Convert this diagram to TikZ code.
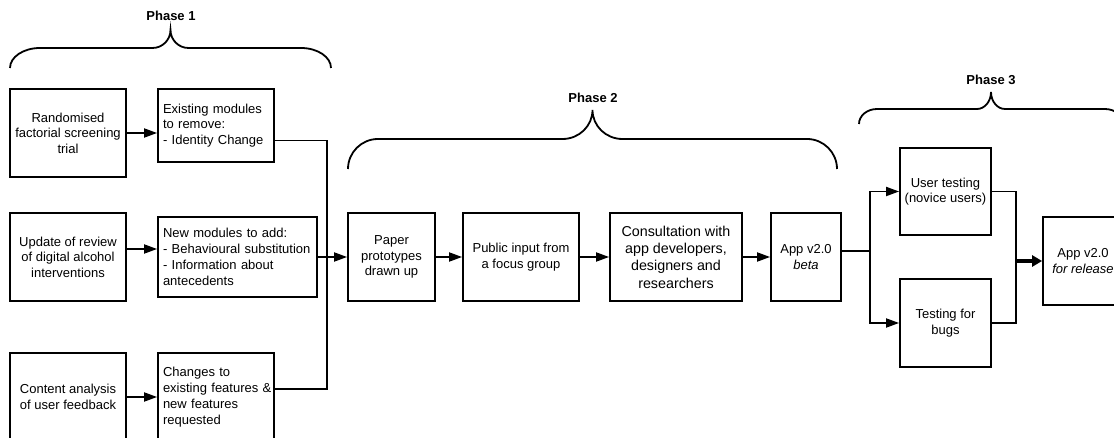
\documentclass[tikz,border=0pt]{standalone}
\usepackage{fontspec}
\setmainfont{Liberation Sans}
\usetikzlibrary{arrows.meta}
\begin{document}
\begin{tikzpicture}[x=1pt,y=-1pt,
  box/.style={draw=black,line width=1.8pt,minimum height=88pt,inner sep=2pt,align=center,
    font=\fontsize{13}{15.5}\selectfont},
  lbox/.style={draw=black,line width=1.8pt,inner xsep=5pt,inner ysep=2pt,align=left,
    font=\fontsize{13}{15.8}\selectfont},
  conn/.style={line width=1.8pt},
  arr/.style={line width=1.8pt,-{Triangle[length=13pt,width=9pt]}},
  thickarr/.style={line width=3.2pt,-{Triangle[length=10pt,width=11pt]}},
  brace/.style={line width=1.8pt},
  phase/.style={font=\fontsize{13}{15}\selectfont\bfseries}]
\useasboundingbox (0,0) rectangle (1114,438);
\clip (0,0) rectangle (1114,438);

% Phase 1 column A
\node[box,minimum width=116pt] (A1) at (68,133) {Randomised\\factorial screening\\trial};
\node[box,minimum width=116pt] (A2) at (68,257) {Update of review\\of digital alcohol\\interventions};
\node[box,minimum width=116pt] (A3) at (68,397) {Content analysis\\of user feedback};
% Phase 1 column B
\node[lbox,minimum width=116pt,minimum height=73pt,text width=106pt] (B1) at (216,125.5)
  {\mbox{Existing modules}\\\mbox{to remove:}\\\mbox{- Identity Change}};
\node[lbox,minimum width=159pt,minimum height=80pt,text width=149pt] (B2) at (237.5,257)
  {\mbox{New modules to add:}\\\mbox{- Behavioural substitution}\\\mbox{- Information about}\\\mbox{antecedents}};
\node[lbox,minimum width=116pt,minimum height=88pt,text width=106pt] (B3) at (216,397)
  {\mbox{Changes to}\\\mbox{existing features \&}\\\mbox{new features}\\\mbox{requested}};

% Phase 2
\node[box,minimum width=87pt] (C1) at (391.5,257) {Paper\\prototypes\\drawn up};
\node[box,minimum width=116pt] (C2) at (521,257) {Public input from\\a focus group};
\node[box,minimum width=132pt,font=\fontsize{14.3}{17.3}\selectfont] (C3) at (676,257)
  {Consultation with\\app developers,\\designers and\\researchers};
\node[box,minimum width=70pt] (C4) at (806,257) {App v2.0\\\textit{beta}};

% Phase 3
\node[box,minimum width=91pt,minimum height=87pt] (D1) at (945.5,191.5) {User testing\\(novice users)};
\node[box,minimum width=91pt] (D2) at (945.5,323) {Testing for\\bugs};
\node[box,minimum width=80pt] (E) at (1083,261) {App v2.0\\\textit{for release}};

% junctions
\coordinate (J) at (327,257);
\coordinate (S) at (870,251);
\coordinate (M) at (1016,261);

% connectors
\draw[arr] (A1) -- (A1 -| B1.west);
\draw[arr] ([yshift=8pt]A2.east) -- ([yshift=8pt]A2.east -| B2.west);
\draw[arr] (A3) -- (A3 -| B3.west);
\draw[conn] ([yshift=-15pt]B1.east) -| (J);
\draw[conn] ([yshift=8pt]B3.east) -| (J);
\draw[arr] (B2.east) -- (C1.west);
\draw[arr] (C1) -- (C2);
\draw[arr] (C2) -- (C3);
\draw[arr] (C3) -- (C4);
\draw[conn] ([yshift=6pt]C4.east) -- (S);
\draw[arr] (S) |- (D1.west);
\draw[arr] (S) |- (D2.west);
\draw[conn] (D1.east) -| (M);
\draw[conn] (D2.east) -| (M);
\draw[thickarr] (M) -- (E.west);

% braces
\draw[brace] (10,68) .. controls (10,56.96) and (23.44,48) .. (40,48) -- (152.5,48)
  .. controls (162.4,48) and (170.5,39.9) .. (170.5,30)
  .. controls (170.5,39.9) and (178.6,48) .. (188.5,48) -- (301,48)
  .. controls (317.56,48) and (331,56.96) .. (331,68);
\draw[brace] (348,169) .. controls (348,152.44) and (361.44,139) .. (378,139) -- (562.5,139)
  .. controls (579.06,139) and (592.5,126) .. (592.5,110)
  .. controls (592.5,126) and (605.94,139) .. (622.5,139) -- (807,139)
  .. controls (823.56,139) and (837,152.44) .. (837,169);
\draw[brace] (859,124) .. controls (859,115.72) and (867.06,109) .. (877,109) -- (977,109)
  .. controls (984.73,109) and (991,101.38) .. (991,92)
  .. controls (991,101.38) and (997.27,109) .. (1005,109) -- (1105,109)
  .. controls (1114.94,109) and (1123,115.72) .. (1123,124);

\node[phase] (P1) at (171,16) {Phase 1};
\node[phase] (P2) at (593,98) {Phase 2};
\node[phase] (P3) at (991,80) {Phase 3};
\end{tikzpicture}
\end{document}
